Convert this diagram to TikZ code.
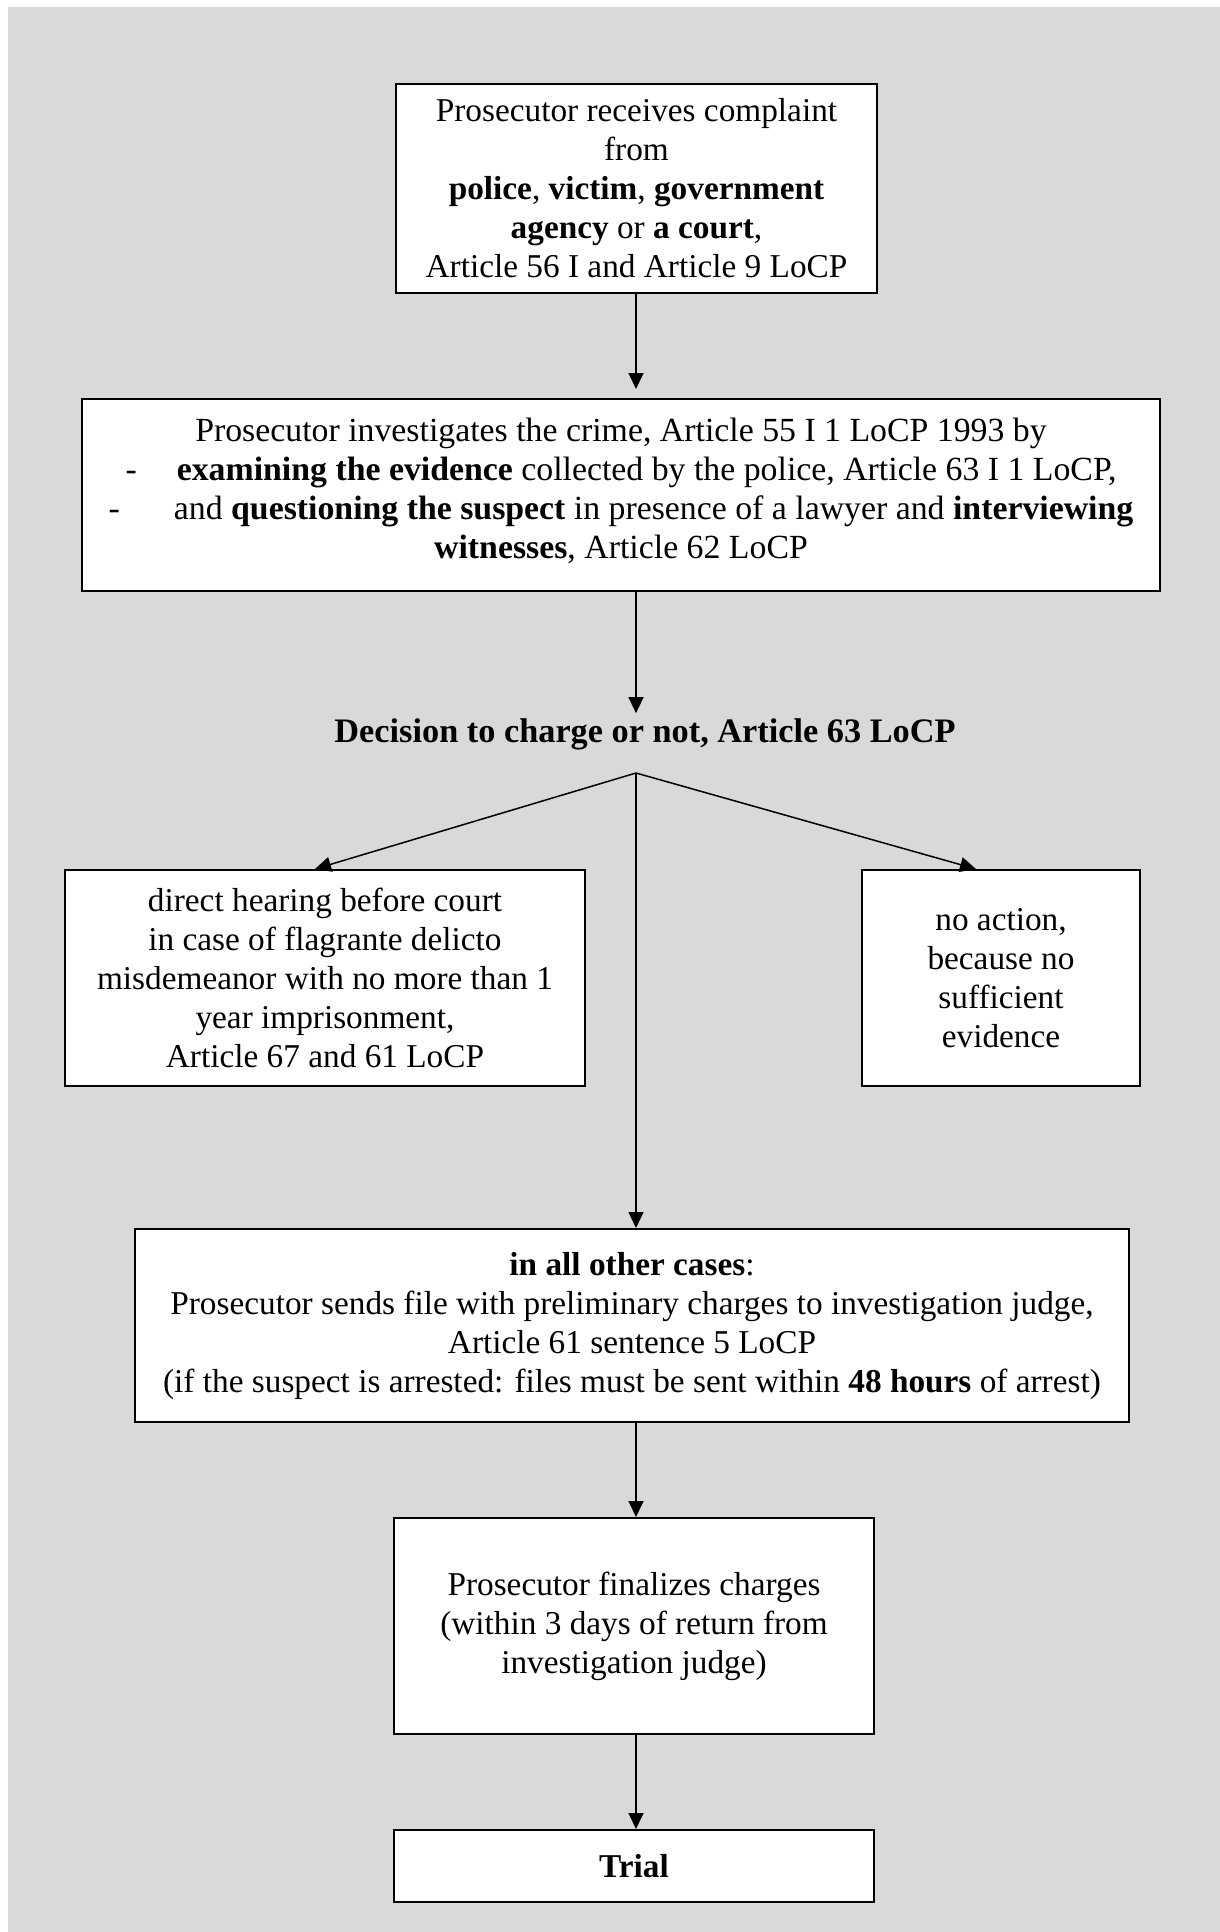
\documentclass[tikz,border=0pt]{standalone}
\usepackage{fontspec}
\setmainfont{Liberation Serif}
\usetikzlibrary{arrows.meta,calc}
\definecolor{bggray}{HTML}{D9D9D9}
\begin{document}
\begin{tikzpicture}[x=1pt,y=-1pt,
  box/.style={draw=black,line width=2pt,fill=white,align=center,inner sep=2pt,
    font=\fontsize{33.3}{39}\selectfont},
  plain/.style={align=center,inner sep=2pt},
  arr/.style={line width=1.5pt,-{Triangle[length=16pt,width=15pt]}},
  ]
\useasboundingbox (0,0) rectangle (1220,1932);
\fill[bggray] (8,7) rectangle (1220,1932);

\node[box,minimum width=481pt,minimum height=209pt] (b1) at (636.5,188.5)
  {Prosecutor receives complaint\\ from\\
   \textbf{police}, \textbf{victim}, \textbf{government}\\
   \textbf{agency} or \textbf{a court},\\
   Article 56 I and Article 9 LoCP};

\node[box,minimum width=1078pt,minimum height=192pt,
      font=\fontsize{33.8}{39}\selectfont] (b2) at (621,495)
  {Prosecutor investigates the crime, Article 55 I 1 LoCP 1993 by\\
   -\hspace{40pt}\textbf{examining the evidence} collected by the police, Article 63 I 1 LoCP,\\
   -\hspace{54pt}and \textbf{questioning the suspect} in presence of a lawyer and \textbf{interviewing}\\
   \textbf{witnesses}, Article 62 LoCP\\[-26pt]\mbox{}};

\node[plain,font=\fontsize{34.3}{39}\selectfont\bfseries] (dec) at (645,734)
  {Decision to charge or not, Article 63 LoCP};
\coordinate (branch) at (636,773);

\node[box,minimum width=520pt,minimum height=216pt] (left) at (325,978)
  {direct hearing before court\\ in case of flagrante delicto\\
   misdemeanor with no more than 1\\ year imprisonment,\\ Article 67 and 61 LoCP};

\node[box,minimum width=278pt,minimum height=216pt] (right) at (1001,978)
  {no action,\\ because no\\ sufficient\\ evidence};

\node[box,minimum width=994pt,minimum height=193pt] (b4) at (632,1325.5)
  {\textbf{in all other cases}:\\
   Prosecutor sends file with preliminary charges to investigation judge,\\
   Article 61 sentence 5 LoCP\\
   (if the suspect is arrested: files must be sent within \textbf{48 hours} of arrest)};

\node[box,minimum width=480pt,minimum height=216pt] (b5) at (634,1626)
  {Prosecutor finalizes charges\\ (within 3 days of return from\\ investigation judge)};

\node[box,minimum width=480pt,minimum height=72pt] (trial) at (634,1866)
  {\textbf{Trial}};

\draw[arr,shorten >=9pt] (b1.south -| branch) -- (branch |- b2.north);
\draw[arr,shorten >=3pt] (b2.south -| branch) -- (branch |- dec.north);
\draw[arr] (branch) -- ($(left.north)+(-10,0)$);
\draw[arr] (branch) -- ($(right.north)+(-25,0)$);
\draw[arr] (branch) -- (branch |- b4.north);
\draw[arr] (b4.south -| branch) -- (branch |- b5.north);
\draw[arr] (b5.south -| branch) -- (branch |- trial.north);
\end{tikzpicture}
\end{document}
